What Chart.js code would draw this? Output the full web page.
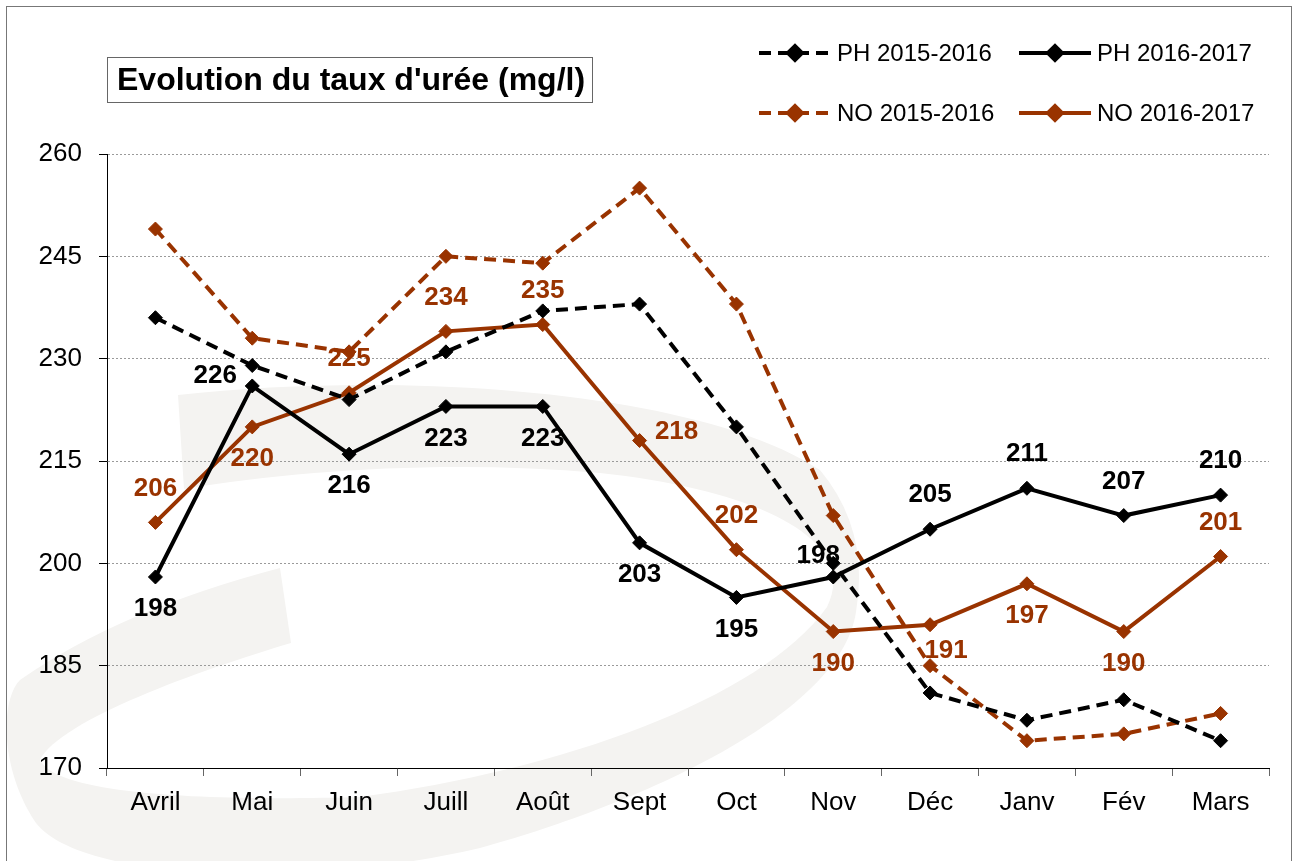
<!DOCTYPE html>
<html>
<head>
<meta charset="utf-8">
<script src="https://cdn.jsdelivr.net/npm/chart.js@4.4.0/dist/chart.umd.min.js"></script>
<style>
html, body { margin: 0; padding: 0; background: #fff; }
canvas { display: block; }
</style>
</head>
<body>
<canvas id="myChart" width="1298" height="861"></canvas>
<script>
var months = ["Avril", "Mai", "Juin", "Juill", "Août", "Sept", "Oct", "Nov", "Déc", "Janv", "Fév", "Mars"];
var ph1516 = [236, 229, 224, 231, 237, 238, 220, 200, 181, 177, 180, 174];
var ph1617 = [198, 226, 216, 223, 223, 203, 195, 198, 205, 211, 207, 210];
var no1516 = [249, 233, 231, 245, 244, 255, 238, 207, 185, 174, 175, 178];
var no1617 = [206, 220, 225, 234, 235, 218, 202, 190, 191, 197, 190, 201];
var yTicks = [170, 185, 200, 215, 230, 245, 260];

// where each value label sits around its point
var ph1617Pos = ['b', 'l', 'b', 'b', 'b', 'b', 'b', 'al', 'a', 'a', 'a', 'a'];
var no1617Pos = ['a', 'b', 'a', 'a', 'a', 'r', 'a', 'b', 'br', 'b', 'b', 'a'];
var offsets = {
    a: [0, -34], b: [0, 32], l: [-37, -10], r: [37, -9], al: [-15, -21], br: [16, 26]
};

var brown = '#993300';
var font = '"Liberation Sans", Arial, sans-serif';

function drawSwoosh(ctx) {
    ctx.save();
    ctx.fillStyle = '#f4f3f1';
    ctx.beginPath();
    ctx.moveTo(178, 395);
    ctx.bezierCurveTo(400, 370, 700, 390, 820, 470);
    ctx.quadraticCurveTo(870, 530, 856, 612);
    ctx.bezierCurveTo(840, 720, 620, 810, 480, 848);
    ctx.bezierCurveTo(300, 890, 80, 880, 36, 823);
    ctx.bezierCurveTo(0, 770, 0, 700, 20, 680);
    ctx.quadraticCurveTo(120, 610, 280, 568);
    ctx.lineTo(291, 643);
    ctx.bezierCurveTo(200, 670, 60, 720, 40, 760);
    ctx.bezierCurveTo(60, 800, 250, 800, 360, 797);
    ctx.bezierCurveTo(560, 770, 760, 700, 827, 607);
    ctx.bezierCurveTo(860, 540, 760, 490, 600, 473);
    ctx.bezierCurveTo(450, 460, 300, 470, 184, 489);
    ctx.closePath();
    ctx.fill();
    ctx.restore();
}

var backdrop = {
    id: 'backdrop',
    beforeDraw: function (chart) {
        var ctx = chart.ctx;
        ctx.save();
        ctx.fillStyle = '#fff';
        ctx.fillRect(0, 0, chart.width, chart.height);
        drawSwoosh(ctx);
        ctx.strokeStyle = '#777';
        ctx.lineWidth = 1;
        ctx.strokeRect(6.5, 6.5, 1285, 870);
        ctx.restore();
    }
};

var titleBox = {
    id: 'titleBox',
    afterDraw: function (chart) {
        var ctx = chart.ctx;
        ctx.save();
        ctx.fillStyle = '#fff';
        ctx.fillRect(107.5, 57.5, 485, 45);
        ctx.strokeStyle = '#666';
        ctx.lineWidth = 1;
        ctx.strokeRect(107.5, 57.5, 485, 45);
        ctx.fillStyle = '#000';
        ctx.font = 'bold 32px ' + font;
        ctx.textBaseline = 'middle';
        ctx.fillText("Evolution du taux d'urée (mg/l)", 117, 81);
        ctx.restore();
    }
};

var sideLegend = {
    id: 'sideLegend',
    afterDraw: function (chart) {
        var ctx = chart.ctx;
        var spots = [[759, 53], [1019, 53], [759, 113], [1019, 113]];
        chart.data.datasets.forEach(function (ds, i) {
            var x = spots[i][0], y = spots[i][1];
            ctx.save();
            ctx.strokeStyle = ds.borderColor;
            ctx.lineWidth = ds.borderWidth;
            ctx.setLineDash(ds.borderDash || []);
            ctx.beginPath();
            ctx.moveTo(x, y);
            ctx.lineTo(x + 72, y);
            ctx.stroke();
            ctx.setLineDash([]);
            Chart.helpers.drawPoint(ctx, {
                pointStyle: 'rectRot', radius: 7, borderWidth: 1
            }, x + 36, y);
            ctx.fillStyle = ds.borderColor;
            ctx.fill();
            ctx.fillStyle = '#000';
            ctx.font = '24px ' + font;
            ctx.textBaseline = 'middle';
            ctx.fillText(ds.label, x + 78, y + 1);
            ctx.restore();
        });
    }
};

var valueLabels = {
    id: 'valueLabels',
    afterDatasetsDraw: function (chart) {
        var ctx = chart.ctx;
        var sets = [[1, ph1617Pos], [3, no1617Pos]];
        ctx.save();
        ctx.font = 'bold 26px ' + font;
        ctx.textAlign = 'center';
        ctx.textBaseline = 'middle';
        sets.forEach(function (s) {
            var ds = chart.data.datasets[s[0]];
            var meta = chart.getDatasetMeta(s[0]);
            ctx.fillStyle = ds.borderColor;
            meta.data.forEach(function (pt, j) {
                var off = offsets[s[1][j]];
                ctx.fillText(ds.data[j], pt.x + off[0], pt.y + off[1]);
            });
        });
        ctx.restore();
    }
};

function line(label, data, color, dashed) {
    return {
        label: label,
        data: data,
        borderColor: color,
        backgroundColor: color,
        borderWidth: 4,
        borderDash: dashed ? [12, 7] : [],
        pointStyle: 'rectRot',
        pointRadius: 7,
        pointBorderWidth: 1,
        pointBackgroundColor: color,
        pointBorderColor: color,
        tension: 0,
        fill: false
    };
}

var ctx = document.getElementById("myChart");
var myChart = new Chart(ctx, {
    type: 'line',
    data: {
        labels: months,
        datasets: [
            line('PH 2015-2016', ph1516, '#000', true),
            line('PH 2016-2017', ph1617, '#000', false),
            line('NO 2015-2016', no1516, brown, true),
            line('NO 2016-2017', no1617, brown, false)
        ]
    },
    options: {
        responsive: false,
        animation: false,
        devicePixelRatio: 1,
        layout: { padding: { top: 154, right: 29, left: 0, bottom: 0 } },
        plugins: {
            legend: { display: false },
            title: { display: false },
            tooltip: { enabled: false }
        },
        scales: {
            x: {
                offset: true,
                afterFit: function (s) { s.height = 93; },
                grid: {
                    offset: true,
                    drawOnChartArea: false,
                    tickLength: 8,
                    tickColor: '#666'
                },
                border: { color: '#000', width: 1 },
                ticks: {
                    color: '#000',
                    padding: 11,
                    maxRotation: 0,
                    font: { family: font, size: 26 }
                }
            },
            y: {
                min: yTicks[0],
                max: yTicks[yTicks.length - 1],
                afterFit: function (s) { s.width = 107; },
                afterBuildTicks: function (s) {
                    s.ticks = yTicks.map(function (v) { return { value: v }; });
                },
                grid: {
                    color: '#9a9a9a',
                    tickLength: 8,
                    tickColor: '#000',
                    tickBorderDash: []
                },
                border: { color: '#000', width: 1, dash: [2, 2] },
                ticks: {
                    color: '#000',
                    padding: 17,
                    font: { family: font, size: 26 }
                }
            }
        }
    },
    plugins: [backdrop, titleBox, sideLegend, valueLabels]
});
</script>
</body>
</html>
